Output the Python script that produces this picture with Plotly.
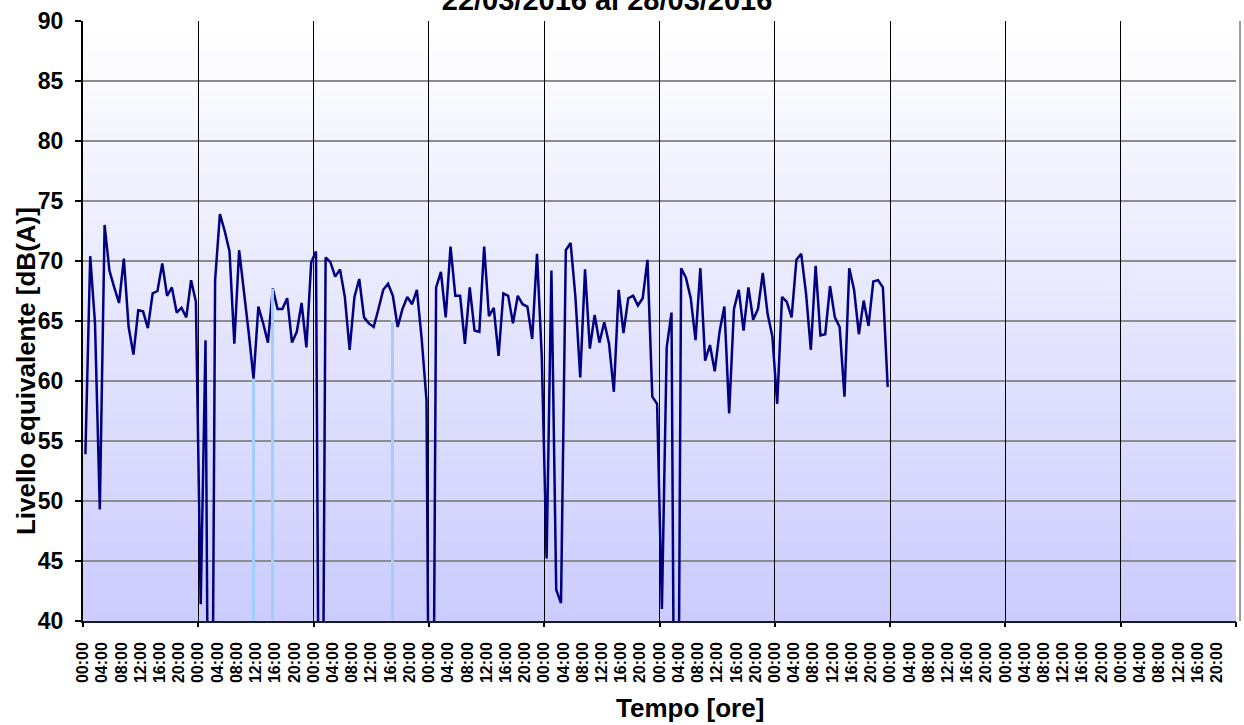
import plotly.graph_objects as go

# livello equivalente orario [dB(A)], 22/03/2016 - 28/03/2016 (valori < 40 = fuori scala)
giorno_1 = [53.9, 70.4, 64.8, 49.3, 73.0, 69.2, 67.8, 66.5, 70.2, 64.5, 62.2, 65.9,
            65.8, 64.4, 67.3, 67.5, 69.8, 67.1, 67.8, 65.7, 66.1, 65.3, 68.4, 66.6]
giorno_2 = [41.4, 63.4, 0.0, 68.4, 73.9, 72.5, 70.8, 63.1, 70.9, 67.6, 64.0, 60.2,
            66.2, 64.8, 63.2, 67.7, 66.0, 66.0, 66.9, 63.2, 64.1, 66.5, 62.8, 69.9]
giorno_3 = [70.8, 0.0, 70.3, 69.9, 68.7, 69.3, 67.0, 62.6, 67.0, 68.5, 65.3, 64.8,
            64.5, 66.0, 67.6, 68.1, 67.1, 64.5, 66.0, 67.0, 66.4, 67.6, 63.5, 58.4]
giorno_4 = [0.0, 67.8, 69.1, 65.3, 71.2, 67.1, 67.1, 63.1, 67.8, 64.2, 64.1, 71.2,
            65.4, 66.1, 62.1, 67.3, 67.1, 64.8, 67.1, 66.4, 66.2, 63.5, 70.6, 62.0]
giorno_5 = [45.2, 69.2, 42.6, 41.5, 70.9, 71.5, 67.0, 60.3, 69.3, 62.7, 65.5, 63.2,
            64.9, 63.1, 59.1, 67.6, 64.0, 66.9, 67.1, 66.3, 66.9, 70.1, 58.7, 58.1]
giorno_6 = [41.0, 62.8, 65.7, 0.0, 69.4, 68.6, 66.9, 63.4, 69.4, 61.7, 63.0, 60.8,
            64.1, 66.2, 57.3, 66.0, 67.6, 64.2, 67.8, 65.1, 66.0, 69.0, 65.6, 63.7]
giorno_7 = [58.1, 67.0, 66.6, 65.3, 70.1, 70.6, 67.3, 62.6, 69.6, 63.8, 63.9, 67.9,
            65.3, 64.5, 58.7, 69.4, 67.6, 63.9, 66.7, 64.6, 68.3, 68.4, 67.8, 59.5]

# eventi segnalati (ora progressiva, livello)
ore_eventi = [35, 39, 64]
livelli_eventi = [60.2, 67.7, 65.1]

etichette_ore = ["00:00", "04:00", "08:00", "12:00", "16:00", "20:00"]
n_giorni_asse = 10

livelli = giorno_1 + giorno_2 + giorno_3 + giorno_4 + giorno_5 + giorno_6 + giorno_7
ore = [i + 0.5 for i in range(len(livelli))]  # centro della categoria oraria

fig = go.Figure()

# eventi (linee azzurre)
fig.add_trace(go.Bar(x=[o + 0.5 for o in ore_eventi], y=livelli_eventi,
                     width=0.4, marker_color="#9fcfff", marker_line_width=0,
                     xaxis="x2", showlegend=False))

# livello equivalente
fig.add_trace(go.Scatter(x=ore, y=livelli, mode="lines",
                         line=dict(color="#000080", width=2.5),
                         showlegend=False))

# sfondo sfumato
n_bande = 60
for k in range(n_bande):
    t = k / (n_bande - 1)
    r = round(204 + (255 - 204) * t)
    g = round(204 + (255 - 204) * t)
    fig.add_shape(type="rect", xref="paper", yref="paper",
                  x0=0, x1=1, y0=k / n_bande, y1=(k + 1) / n_bande,
                  fillcolor=f"rgb({r},{g},255)", line_width=0, layer="below")

# bordo destro grigio
fig.add_shape(type="line", xref="paper", yref="paper", x0=1.0035, x1=1.0035,
              y0=0, y1=1, line=dict(color="#9a9a9a", width=2))

font_b = dict(family="Liberation Sans, Arial, sans-serif", color="black", weight="bold")

fig.update_layout(
    width=1244, height=725,
    margin=dict(l=83, r=8, t=21, b=104),
    paper_bgcolor="white",
    plot_bgcolor="rgba(0,0,0,0)",
    bargap=0,
    title=dict(text="22/03/2016 al 28/03/2016",
               font=dict(size=29, **font_b),
               x=0.488, xref="container", xanchor="center",
               y=1.0, yref="container", yanchor="middle"),
    xaxis=dict(range=[0, 24 * n_giorni_asse], automargin=False,
               tickmode="array",
               tickvals=list(range(0, 24 * n_giorni_asse, 4)),
               ticktext=etichette_ore * n_giorni_asse,
               tickangle=-90, ticks="", ticklabelstandoff=13,
               tickfont=dict(size=16, **font_b),
               showgrid=False, zeroline=False,
               showline=True, linecolor="#1a1a2e", linewidth=1.5),
    xaxis2=dict(range=[0, 24 * n_giorni_asse], overlaying="x", anchor="y", side="bottom",
                automargin=False,
                tickmode="array", tickvals=list(range(0, 24 * n_giorni_asse + 1, 24)),
                showticklabels=False, ticks="outside", ticklen=5, tickwidth=2,
                tickcolor="black", showgrid=True, gridcolor="black", gridwidth=1.2,
                zeroline=False, showline=False),
    yaxis=dict(range=[40, 90], dtick=5, tick0=40, automargin=False,
               ticks="outside", ticklen=6, tickwidth=1.5, tickcolor="black",
               ticklabelstandoff=7,
               tickfont=dict(size=23, **font_b),
               showgrid=True, gridcolor="#8c8c8c", gridwidth=1.5,
               zeroline=False, showline=True, linecolor="black", linewidth=2),
)

fig.add_annotation(text="Livello equivalente [dB(A)]", textangle=-90,
                   xref="paper", yref="paper", x=-0.0494, y=0.4167,
                   xanchor="center", yanchor="middle", showarrow=False,
                   font=dict(size=26, **font_b))
fig.add_annotation(text="Tempo [ore]",
                   xref="paper", yref="paper", x=0.5265, y=-0.145,
                   xanchor="center", yanchor="middle", showarrow=False,
                   font=dict(size=26, **font_b))

# niente margine della pagina, così il grafico parte dall'angolo
fig.write_html("out.html", config={"displayModeBar": False},
               post_script="document.body.style.margin='0';")
